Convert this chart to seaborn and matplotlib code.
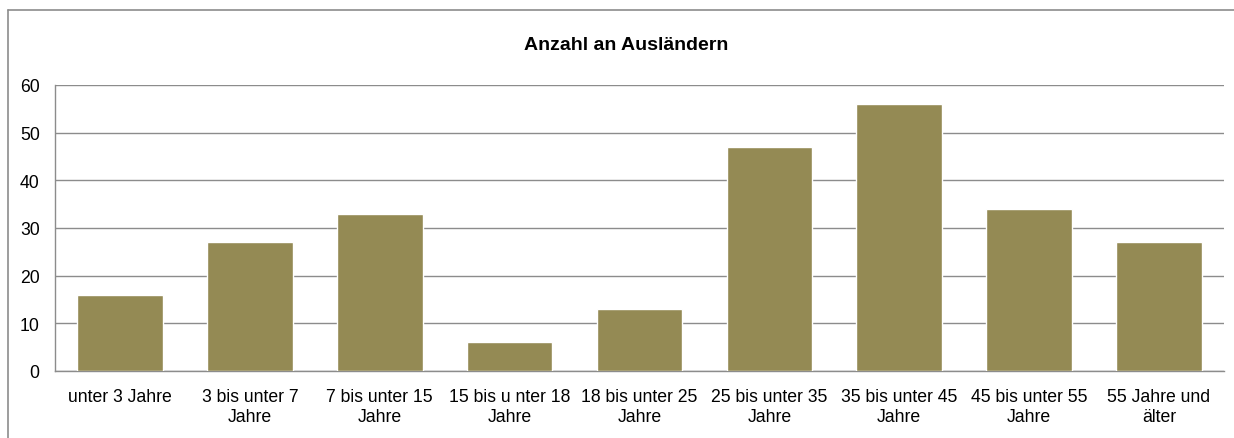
import matplotlib
matplotlib.use("Agg")
import matplotlib.pyplot as plt
import seaborn as sns
import pandas as pd
from matplotlib.lines import Line2D

# Data
categories = ["unter 3 Jahre", "3 bis unter 7\nJahre", "7 bis unter 15\nJahre",
              "15 bis u nter 18\nJahre", "18 bis unter 25\nJahre", "25 bis unter 35\nJahre",
              "35 bis unter 45\nJahre", "45 bis unter 55\nJahre", "55 Jahre und\nälter"]
values = [16, 27, 33, 6, 13, 47, 56, 34, 27]
yticks = [0, 10, 20, 30, 40, 50, 60]

df = pd.DataFrame({"Alter": categories, "Anzahl": values})

sns.set_style("white")
plt.rcParams['font.family'] = ['Liberation Sans', 'DejaVu Sans']

fig = plt.figure(figsize=(12.34, 4.39), dpi=100)
ax = fig.add_axes([55 / 1234, 1 - 372 / 439, (1224 - 55) / 1234, (372 - 86) / 439])

sns.barplot(data=df, x="Alter", y="Anzahl", color="#948A54", width=0.66,
            saturation=1, ax=ax, zorder=3)

ax.set_ylim(0, 60)
ax.set_yticks(yticks)
ax.set_xlim(-0.5, len(categories) - 0.5)
ax.yaxis.grid(True, color="#8C8C8C", linewidth=1, zorder=0)
ax.set_axisbelow(True)
ax.set_xlabel("")
ax.set_ylabel("")
ax.tick_params(axis="both", length=0, labelsize=12.7, colors="black")
ax.tick_params(axis="x", pad=12)
ax.tick_params(axis="y", pad=11)
for lbl in ax.get_xticklabels():
    lbl.set_linespacing(1.25)

for s in ["top", "right"]:
    ax.spines[s].set_visible(False)
for s in ["left", "bottom"]:
    ax.spines[s].set_color("#8C8C8C")
    ax.spines[s].set_linewidth(1)

fig.text(626 / 1234, 1 - 46 / 439, "Anzahl an Ausländern", ha="center", va="center",
         fontsize=14, fontweight="bold", color="black")

# outer chart border (top and left edges visible)
x0, y0 = 7.5 / 1234, 1 - 11 / 439
fig.lines.append(Line2D([x0, 1.0], [y0, y0], transform=fig.transFigure,
                        color="#8C8C8C", linewidth=1.2))
fig.lines.append(Line2D([x0, x0], [0.0, y0], transform=fig.transFigure,
                        color="#8C8C8C", linewidth=1.2))

fig.savefig("out.png", dpi=100)
